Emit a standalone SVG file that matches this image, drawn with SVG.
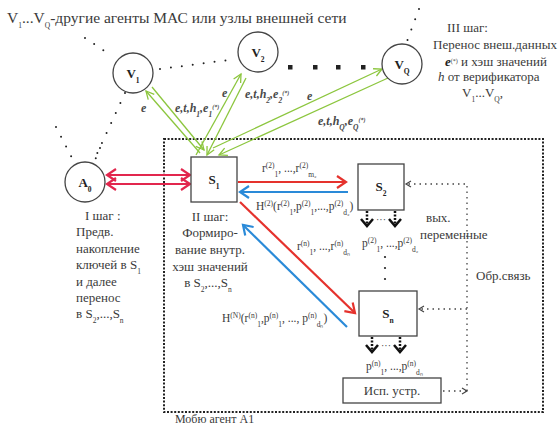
<svg xmlns="http://www.w3.org/2000/svg" width="560" height="427" viewBox="0 0 560 427" font-family="'Liberation Serif', 'Times New Roman', serif">
<style>
.t{font-family:"Liberation Serif","Times New Roman",serif;font-size:13px;fill:#3a3a3a}
.s{font-size:7.5px}
.b{font-weight:bold;fill:#222}
.i{font-style:italic}
.gl{font-family:"Liberation Serif","Times New Roman",serif;font-size:12px;font-style:italic;font-weight:bold;fill:#4a4a4a}
.node{fill:#fff;stroke:#444;stroke-width:1.3}
.gr{stroke:#8cc63e;stroke-width:1.3;fill:none;marker-end:url(#mg)}
.rd{stroke:#e5322d;stroke-width:2.2;fill:none;marker-end:url(#mr)}
.bl{stroke:#2a8ad8;stroke-width:2.2;fill:none;marker-end:url(#mb)}
.pk{stroke:#e2264d;stroke-width:2.2;fill:none;marker-end:url(#mp);marker-start:url(#mp)}
.dot{stroke:#222;stroke-width:2;stroke-linecap:round;stroke-dasharray:0 11;fill:none}
.fb{stroke:#444;stroke-width:1.3;stroke-dasharray:1.5 4;fill:none}
.da{stroke:#111;stroke-width:2.5;stroke-dasharray:2 1.5;fill:none}
.ch{stroke:#111;stroke-width:2.5;fill:none}
</style>
<defs>
<marker id="mg" markerUnits="userSpaceOnUse" markerWidth="12" markerHeight="12" refX="9" refY="5" orient="auto"><path d="M1,1 L9,5 L1,9" fill="none" stroke="#8cc63e" stroke-width="1.3"/></marker>
<marker id="mr" markerUnits="userSpaceOnUse" markerWidth="14" markerHeight="14" refX="11" refY="7" orient="auto"><path d="M2,1 L11,7 L2,13" fill="none" stroke="#e5322d" stroke-width="2.2"/></marker>
<marker id="mb" markerUnits="userSpaceOnUse" markerWidth="14" markerHeight="14" refX="11" refY="7" orient="auto"><path d="M2,1 L11,7 L2,13" fill="none" stroke="#2a8ad8" stroke-width="2.2"/></marker>
<marker id="mp" markerUnits="userSpaceOnUse" markerWidth="14" markerHeight="14" refX="11" refY="7" orient="auto-start-reverse"><path d="M2,1 L11,7 L2,13" fill="none" stroke="#e2264d" stroke-width="2.2"/></marker>
<marker id="mf" markerUnits="userSpaceOnUse" markerWidth="8" markerHeight="8" refX="6" refY="4" orient="auto"><path d="M1,1 L6,4 L1,7" fill="none" stroke="#444" stroke-width="1.2"/></marker>
</defs>
<rect width="560" height="427" fill="#fff"/>

<text class="t" x="7" y="23" style="font-size:15.5px">V<tspan class="s" baseline-shift="sub">1</tspan>...V<tspan class="s" baseline-shift="sub">Q</tspan>-другие агенты МАС или узлы внешней сети</text>

<g id="background-dots">
<path class="dot" d="M85,38 L112,56"/>
<path class="dot" d="M160,69 L236,59"/>
<path class="dot" d="M125,93 L95,158"/>
<path class="dot" d="M56,127 L73,160"/>
<path class="dot" d="M100,148 L95,160"/>
<path class="dot" d="M419,9 L406,44"/>
<g fill="#222"><rect x="288" y="65" width="4.5" height="4.5"/><rect x="313" y="65" width="4.5" height="4.5"/><rect x="336" y="65" width="4.5" height="4.5"/><rect x="361" y="65" width="4.5" height="4.5"/></g>
</g>

<rect x="164" y="139" width="379" height="273" fill="none" stroke="#222" stroke-width="2" stroke-dasharray="2 1.6"/>

<g id="connectors">
<path class="gr" d="M200,153 L146,91"/>
<path class="gr" d="M152,87 L204,150"/>
<path class="gr" d="M196,155 L241,74"/>
<path class="gr" d="M246,78 L207,155"/>
<path class="gr" d="M213,148 L382,69"/>
<path class="gr" d="M388,78 L219,155"/>
<path class="pk" d="M107,175 L190,175"/>
<path class="pk" d="M107,184 L190,184"/>
<path class="rd" d="M238,182 L346,182"/>
<path class="bl" d="M348,192 L240,192"/>
<path class="rd" d="M240,202 L355,313"/>
<path class="bl" d="M347,327 L243,225"/>
<path class="da" d="M367,211 L367,225"/><path class="ch" d="M361,219 L367,226 L373,219"/>
<path class="da" d="M395,211 L395,225"/><path class="ch" d="M389,219 L395,226 L401,219"/>
<path class="da" d="M372,337 L372,351"/><path class="ch" d="M366,345 L372,352 L378,345"/>
<path class="da" d="M400,337 L400,351"/><path class="ch" d="M394,345 L400,352 L406,345"/>
<path class="fb" d="M443,391 L467,391" marker-end="url(#mf)"/>
<path class="fb" d="M467,391 L467,184 L406,184" marker-end="url(#mf)"/>
<path class="fb" d="M467,309 L419,309" marker-end="url(#mf)"/>
<g fill="#222"><circle cx="385" cy="257" r="1.1"/><circle cx="385" cy="268" r="1.1"/><circle cx="385" cy="279" r="1.1"/></g>
</g>

<g id="V1"><circle class="node" cx="133" cy="73" r="20"/><text class="t b" x="133" y="78" text-anchor="middle">V<tspan class="s" baseline-shift="sub">1</tspan></text></g>
<g id="V2"><circle class="node" cx="258" cy="52" r="20"/><text class="t b" x="258" y="57" text-anchor="middle">V<tspan class="s" baseline-shift="sub">2</tspan></text></g>
<g id="VQ"><circle class="node" cx="402" cy="64" r="20"/><text class="t b" x="402" y="69" text-anchor="middle">V<tspan class="s" baseline-shift="sub">Q</tspan></text></g>
<g id="A0"><circle class="node" cx="85" cy="182" r="20"/><text class="t b" x="85" y="187" text-anchor="middle">A<tspan class="s" baseline-shift="sub">0</tspan></text></g>
<g id="S1"><rect class="node" x="191" y="157" width="46" height="45"/><text class="t b" x="214" y="184" text-anchor="middle">S<tspan class="s" baseline-shift="sub">1</tspan></text></g>
<g id="S2"><rect class="node" x="358" y="164" width="46" height="46"/><text class="t b" x="381" y="191" text-anchor="middle">S<tspan class="s" baseline-shift="sub">2</tspan></text></g>
<g id="Sn"><rect class="node" x="359" y="291" width="58" height="45"/><text class="t b" x="388" y="318" text-anchor="middle">S<tspan class="s" baseline-shift="sub">n</tspan></text></g>
<g id="Isp"><rect class="node" x="343" y="378" width="98" height="25"/><text class="t" x="392" y="395" text-anchor="middle">Исп. устр.</text></g>

<g id="labels">
<text class="gl" x="141" y="112">e</text>
<text class="gl" x="175" y="112">e,t,h<tspan class="s" baseline-shift="sub">1</tspan>,e<tspan class="s" baseline-shift="sub">1</tspan><tspan style="font-size:6px" baseline-shift="super">(*)</tspan></text>
<text class="gl" x="222" y="97">e</text>
<text class="gl" x="245" y="98">e,t,h<tspan class="s" baseline-shift="sub">2</tspan>,e<tspan class="s" baseline-shift="sub">2</tspan><tspan style="font-size:6px" baseline-shift="super">(*)</tspan></text>
<text class="gl" x="307" y="100">e</text>
<text class="gl" x="318" y="125">e,t,h<tspan class="s" baseline-shift="sub">Q</tspan>,e<tspan class="s" baseline-shift="sub">Q</tspan><tspan style="font-size:6px" baseline-shift="super">(*)</tspan></text>

<text class="t" x="262" y="172" style="font-size:11.5px">r<tspan class="s" baseline-shift="super">(2)</tspan><tspan class="s" baseline-shift="sub">1</tspan>, ...,r<tspan class="s" baseline-shift="super">(2)</tspan><tspan class="s" baseline-shift="sub">m₂</tspan></text>
<text class="t" x="256" y="210" style="font-size:11.5px">H<tspan class="s" baseline-shift="super">(2)</tspan>(r<tspan class="s" baseline-shift="super">(2)</tspan><tspan class="s" baseline-shift="sub">1</tspan>,p<tspan class="s" baseline-shift="super">(2)</tspan><tspan class="s" baseline-shift="sub">1</tspan>,...,p<tspan class="s" baseline-shift="super">(2)</tspan><tspan class="s" baseline-shift="sub">d₂</tspan>)</text>
<text class="t" x="297" y="250" style="font-size:11.5px">r<tspan class="s" baseline-shift="super">(n)</tspan><tspan class="s" baseline-shift="sub">1</tspan>, ...,r<tspan class="s" baseline-shift="super">(n)</tspan><tspan class="s" baseline-shift="sub">dₙ</tspan></text>
<text class="t" x="222" y="322" style="font-size:11.5px">H<tspan class="s" baseline-shift="super">(N)</tspan>(r<tspan class="s" baseline-shift="super">(n)</tspan><tspan class="s" baseline-shift="sub">1</tspan>,p<tspan class="s" baseline-shift="super">(n)</tspan><tspan class="s" baseline-shift="sub">1</tspan>, ..., p<tspan class="s" baseline-shift="super">(n)</tspan><tspan class="s" baseline-shift="sub">dₙ</tspan>)</text>
<text class="t" x="362" y="247" style="font-size:11.5px">p<tspan class="s" baseline-shift="super">(2)</tspan><tspan class="s" baseline-shift="sub">1</tspan>, ...,p<tspan class="s" baseline-shift="super">(2)</tspan><tspan class="s" baseline-shift="sub">d₂</tspan></text>
<text class="t" x="366" y="370" style="font-size:11.5px">p<tspan class="s" baseline-shift="super">(n)</tspan><tspan class="s" baseline-shift="sub">1</tspan>, ...,p<tspan class="s" baseline-shift="super">(n)</tspan><tspan class="s" baseline-shift="sub">dₙ</tspan></text>
<text class="t" x="381" y="223" text-anchor="middle" style="font-size:10px">···</text>
<text class="t" x="386" y="349" text-anchor="middle" style="font-size:10px">···</text>

<text class="t" x="426" y="222">вых.</text>
<text class="t" x="420" y="239">переменные</text>
<text class="t" x="476" y="280">Обр.связь</text>
<text class="t" x="175" y="423" style="font-size:12px">Мобю агент A1</text>

<text class="t" x="447" y="32">III шаг:</text>
<text class="t" x="433" y="49">Перенос внеш.данных</text>
<text class="t" x="445" y="66"><tspan class="i b">e</tspan><tspan style="font-size:6px" baseline-shift="super">(*)</tspan> и хэш значений</text>
<text class="t" x="438" y="81"><tspan class="i">h</tspan> от верификатора</text>
<text class="t" x="462" y="97">V<tspan class="s" baseline-shift="sub">1</tspan>...V<tspan class="s" baseline-shift="sub">Q</tspan>,</text>

<text class="t" x="85" y="220">I шаг :</text>
<text class="t" x="76" y="236">Предв.</text>
<text class="t" x="76" y="253">накопление</text>
<text class="t" x="76" y="269">ключей в S<tspan class="s" baseline-shift="sub">1</tspan></text>
<text class="t" x="76" y="286">и далее</text>
<text class="t" x="76" y="302">перенос</text>
<text class="t" x="76" y="318">в    S<tspan class="s" baseline-shift="sub">2</tspan>,...,S<tspan class="s" baseline-shift="sub">n</tspan></text>

<text class="t" x="210" y="221" text-anchor="middle">II шаг:</text>
<text class="t" x="210" y="237" text-anchor="middle">Формиро-</text>
<text class="t" x="210" y="254" text-anchor="middle">вание внутр.</text>
<text class="t" x="210" y="271" text-anchor="middle">хэш значений</text>
<text class="t" x="208" y="287" text-anchor="middle">в S<tspan class="s" baseline-shift="sub">2</tspan>,...,S<tspan class="s" baseline-shift="sub">n</tspan></text>
</g>
</svg>
